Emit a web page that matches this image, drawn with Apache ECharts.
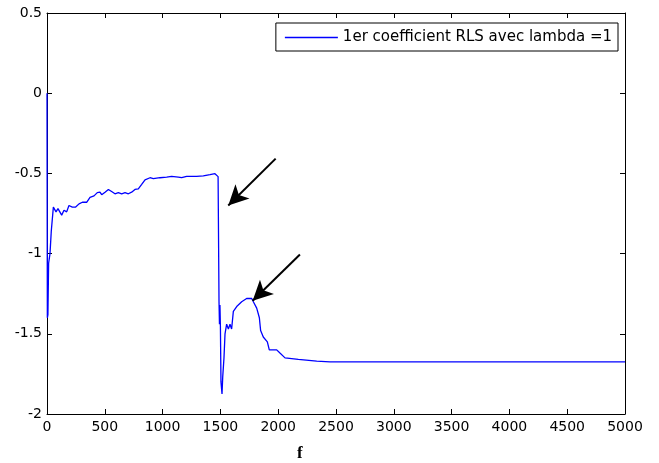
<!DOCTYPE html>
<html>
<head>
<meta charset="utf-8">
<script src="https://cdn.jsdelivr.net/npm/echarts@6/dist/echarts.min.js"></script>
<style>html,body{margin:0;padding:0;background:#fff;}#c{width:659px;height:463px;}</style>
</head>
<body>
<div id="c"></div>
<script>
const seriesName = '1er coefficient RLS avec lambda =1';
const xValues = [0, 3, 8, 14, 26, 37, 46, 55, 66, 78, 95, 112, 127, 147, 170, 190, 219, 248, 277, 306, 343, 372, 407, 435, 458, 473, 502, 531, 559, 588, 617, 646, 675, 704, 732, 761, 790, 819, 848, 891, 920, 977, 1035, 1078, 1136, 1165, 1208, 1294, 1352, 1410, 1453, 1470, 1480, 1488, 1492, 1496, 1500, 1505, 1514, 1520, 1531, 1540, 1554, 1569, 1583, 1597, 1612, 1641, 1684, 1727, 1771, 1785, 1814, 1837, 1848, 1871, 1906, 1923, 1987, 2015, 2059, 2174, 2333, 2448, 5000];
const yValues = [0, -1.40, -1.38, -1.06, -1.0, -0.86, -0.85, -0.71, -0.70, -0.74, -0.72, -0.73, -0.76, -0.73, -0.74, -0.70, -0.71, -0.71, -0.69, -0.68, -0.68, -0.65, -0.64, -0.62, -0.617, -0.633, -0.617, -0.60, -0.613, -0.627, -0.62, -0.627, -0.62, -0.627, -0.617, -0.60, -0.596, -0.569, -0.54, -0.527, -0.533, -0.527, -0.523, -0.519, -0.523, -0.527, -0.519, -0.519, -0.515, -0.508, -0.502, -0.505, -0.52, -1.30, -1.44, -1.32, -1.45, -1.80, -1.875, -1.77, -1.65, -1.50, -1.44, -1.47, -1.44, -1.47, -1.36, -1.33, -1.30, -1.28, -1.28, -1.30, -1.34, -1.40, -1.48, -1.52, -1.55, -1.60, -1.60, -1.62, -1.65, -1.66, -1.67, -1.675, -1.675];
// arrows: [startX, startY, endX, endY]
const arrow1 = [1978, -0.408, 1568, -0.70];
const arrow2 = [2188, -1.006, 1779, -1.294];
const xAxisTitle = 'f';

const data = xValues.map((x, i) => [x, yValues[i]]);
const font = 'DejaVu Sans';
const chart = echarts.init(document.getElementById('c'));
const axisCommon = {
  axisLine: { show: true, onZero: false, lineStyle: { color: '#000', width: 1 } },
  axisTick: { show: true, inside: true, length: 5, lineStyle: { color: '#000' } },
  splitLine: { show: false }
};
chart.setOption({
  animation: false,
  backgroundColor: '#fff',
  grid: { left: 47, right: 34, top: 13, bottom: 49, containLabel: false },
  legend: {
    show: true,
    data: [{ name: seriesName, icon: 'rect' }],
    right: 41, top: 23,
    orient: 'vertical',
    borderColor: '#000', borderWidth: 1,
    padding: [7, 6, 6, 9],
    itemWidth: 53, itemHeight: 1.3,
    itemGap: 0,
    backgroundColor: '#fff',
    textStyle: { fontFamily: font, fontSize: 15, color: '#000', padding: [0, 0, 0, 0] }
  },
  xAxis: [
    Object.assign({}, axisCommon, {
      type: 'value', min: 0, max: 5000, interval: 500, position: 'bottom',
      axisLabel: { color: '#000', fontFamily: font, fontSize: 14, margin: 6, formatter: v => String(v) }
    }),
    Object.assign({}, axisCommon, {
      type: 'value', min: 0, max: 5000, interval: 500, position: 'top',
      axisLabel: { show: false }
    })
  ],
  yAxis: [
    Object.assign({}, axisCommon, {
      type: 'value', min: -2, max: 0.5, interval: 0.5, position: 'left',
      axisLabel: { color: '#000', fontFamily: font, fontSize: 14, margin: 5, formatter: v => String(v) }
    }),
    Object.assign({}, axisCommon, {
      type: 'value', min: -2, max: 0.5, interval: 0.5, position: 'right',
      axisLabel: { show: false }
    })
  ],
  graphic: [{
    type: 'text', left: 297, top: 445,
    style: { text: xAxisTitle, font: 'bold 17px "Liberation Serif"', fill: '#000' }
  }],
  series: [{
    name: seriesName,
    type: 'line',
    data: data,
    showSymbol: false,
    symbol: 'none',
    color: '#0000ff',
    lineStyle: { color: '#0000ff', width: 1.3 },
    markLine: {
      silent: true,
      symbol: ['none', 'arrow'],
      symbolSize: [15, 20],
      label: { show: false },
      lineStyle: { color: '#000', width: 2, type: 'solid' },
      data: [
        [{ coord: [arrow1[0], arrow1[1]] }, { coord: [arrow1[2], arrow1[3]] }],
        [{ coord: [arrow2[0], arrow2[1]] }, { coord: [arrow2[2], arrow2[3]] }]
      ]
    }
  }]
});
</script>
</body>
</html>
